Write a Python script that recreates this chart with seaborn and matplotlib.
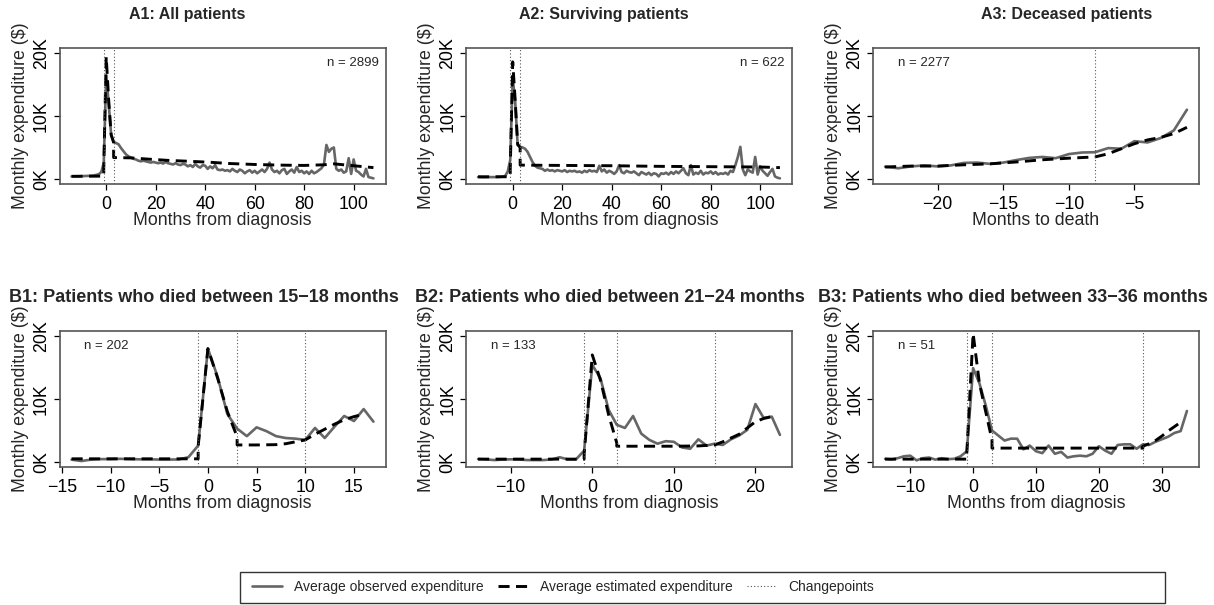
import numpy as np
import pandas as pd
import matplotlib
matplotlib.use("Agg")
import matplotlib.pyplot as plt
import seaborn as sns
from matplotlib.patches import Rectangle
from matplotlib.lines import Line2D

sns.set_style("ticks")
plt.rcParams['font.family'] = ['Liberation Sans', 'DejaVu Sans']
plt.rcParams['axes.unicode_minus'] = True

# ---------------- data ----------------
titles = ["A1: All patients", "A2: Surviving patients", "A3: Deceased patients",
          "B1: Patients who died between 15\u221218 months",
          "B2: Patients who died between 21\u221224 months",
          "B3: Patients who died between 33\u221236 months"]
xlabels = ["Months from diagnosis", "Months from diagnosis", "Months to death",
           "Months from diagnosis", "Months from diagnosis", "Months from diagnosis"]
n_labels = ["n = 2899", "n = 622", "n = 2277", "n = 202", "n = 133", "n = 51"]

a1_months = np.arange(-14, 109)
a1_obs = [400, 420, 430, 420, 450, 460, 480, 500, 520, 560, 650,
          750, 1100, 2500, 16500, 12000, 7000, 5900,
          5700, 5500, 4900, 4400, 3900, 3600, 3400, 3200, 3100, 2900,
          2800, 2900, 2800, 2700, 2600, 2700, 2600, 2500, 2600, 2450,
          2700, 2500, 2400, 2300, 2500, 2300, 2200, 2400, 2300, 2000,
          2200, 1900, 2400, 2000, 1800, 2200, 2100, 1600, 2000, 1700,
          2200, 1500, 1400, 1500, 1300, 1400, 1200, 1600, 1300, 1100,
          1500, 1300, 900, 1200, 1400, 1000, 1300, 900, 1200, 1500,
          1100, 1600, 2600, 1500, 1100, 1300, 900, 1400, 1600, 800,
          1200, 1500, 1000, 1900, 1100, 1300, 900, 1200, 800, 1300,
          900, 1100, 1400, 1700, 2300, 5400, 4300, 4800, 5000, 1600,
          1300, 1500, 1000, 1200, 3300, 800, 3100, 1300, 1100, 700,
          400, 1600, 300, 200, 100]
a1_est_x = [-14, -1, -1, 0, 1, 2, 3, 3, 10, 17, 25, 34, 42, 50, 60, 70, 80, 88, 92, 100, 108]
a1_est_y = [420, 450, 1500, 19400, 12500, 7000, 5800, 3400, 3350, 3150, 2950, 2800, 2650,
            2450, 2300, 2200, 2150, 2250, 2400, 2100, 1800]
a1_cp = [-1, 3]

a2_months = np.arange(-14, 109)
a2_obs = [300, 280, 260, 270, 280, 300, 290, 300, 310, 330, 370,
          500, 1200, 3000, 16000, 12300, 5400, 5100,
          5000, 4800, 4300, 3500, 2700, 2100, 1800, 1700, 1600, 1300,
          1500, 1300, 1400, 1200, 1400, 1300, 1200, 1400, 1100, 1300,
          1200, 1300, 1100, 1200, 1000, 1300, 1100, 1400, 1200, 1300,
          1100, 2100, 1200, 1500, 1000, 1300, 1100, 800, 1200, 2200,
          1100, 900, 1300, 1100, 1000, 1200, 900, 600, 1100, 900,
          700, 1000, 600, 900, 800, 400, 900, 800, 1000, 700,
          1100, 800, 1200, 900, 1300, 1700, 900, 600, 2200, 700,
          1000, 800, 1300, 700, 1000, 900, 1200, 800, 1100, 700,
          900, 800, 1000, 700, 1300, 1100, 2200, 3500, 5100, 1500,
          600, 1500, 1200, 1000, 3500, 700, 2000, 1300, 900, 500,
          1100, 1600, 400, 200, 100]
a2_est_x = [-14, -1, -1, 0, 1, 2, 3, 3, 20, 40, 60, 80, 100, 108]
a2_est_y = [350, 350, 1500, 18600, 12500, 5500, 5000, 2200, 2150, 2100, 2000, 1950, 1900, 1800]
a2_cp = [-1, 3]

a3_months = np.arange(-24, 0)
a3_obs = [1950, 1700, 2000, 2150, 2000, 2150, 2550, 2600, 2400, 2600, 3000, 3350,
          3500, 3300, 3950, 4200, 4250, 4900, 4800, 6000, 5800, 6500, 7700, 11000]
a3_est_x = [-24, -22, -20, -18, -16, -14, -12, -10, -8, -8, -7, -6, -5, -4, -3, -2, -1]
a3_est_y = [1900, 2050, 2050, 2250, 2400, 2700, 3050, 3300, 3500,
            3500, 4000, 4800, 5600, 6200, 6600, 7200, 8200]
a3_cp = [-8]

b1_months = np.arange(-14, 18)
b1_obs = [370, 150, 370, 450, 450, 500, 450, 420, 420, 380, 380, 400, 750, 2600,
          18000, 13500, 7600, 5300, 4100, 5500, 4900, 4100, 3800, 3700, 3500,
          5400, 3800, 5600, 7300, 6500, 8400, 6400]
b1_est_x = [-14, -1, -1, 0, 1, 2, 3, 3, 5, 7, 8, 9, 10, 10, 11, 12, 13, 14, 15, 16]
b1_est_y = [500, 500, 2500, 18000, 13300, 8000, 4000, 2700, 2700, 2750, 2900, 3200, 3500,
            3500, 4400, 5200, 6000, 6700, 7200, 7600]
b1_cp = [-1, 3, 10]

b2_months = np.arange(-14, 24)
b2_obs = [470, 400, 300, 380, 420, 400, 300, 300, 300, 400, 750, 400, 400, 1800,
          15400, 13300, 8300, 5900, 5400, 7300, 4500, 3500, 2900, 3300, 3200, 2300,
          2100, 3600, 2600, 2900, 2700, 3600, 4200, 5100, 9200, 7000, 7200, 4300]
b2_est_x = [-14, -1, -1, 0, 1, 2, 3, 3, 10, 13, 15, 15, 16, 17, 18, 19, 20, 21, 22]
b2_est_y = [450, 450, 1200, 17000, 13000, 7500, 3000, 2500, 2500, 2550, 2700,
            2700, 3200, 3800, 4400, 5400, 6400, 6900, 7200]
b2_cp = [-1, 3, 15]

b3_months = np.arange(-14, 35)
b3_obs = [500, 400, 600, 900, 1000, 260, 600, 700, 370, 600, 450, 500, 900, 1700,
          14900, 12500, 9000, 5000, 4200, 3400, 3700, 3700, 2000, 2600, 1700, 1400,
          2600, 1300, 1600, 700, 900, 1000, 900, 1300, 2500, 1800, 1300, 2700, 2800,
          2800, 2100, 2800, 2700, 3200, 3600, 4000, 4600, 4900, 8100]
b3_est_x = [-14, -1, -1, 0, 1, 2, 3, 3, 27, 27, 28, 29, 30, 31, 32, 33]
b3_est_y = [450, 450, 1500, 20400, 12500, 8000, 3500, 2200, 2200,
            2500, 2900, 3400, 4100, 4900, 5600, 6300]
b3_cp = [-1, 3, 27]

xticks = [[0, 20, 40, 60, 80, 100], [0, 20, 40, 60, 80, 100], [-20, -15, -10, -5],
          [-15, -10, -5, 0, 5, 10, 15], [-10, 0, 10, 20], [-10, 0, 10, 20, 30]]
yticks = [0, 10000, 20000]
ytick_labels = ["0K", "10K", "20K"]
legend_labels = ["Average observed expenditure", "Average estimated expenditure", "Changepoints"]

panels = [
    (a1_months, a1_obs, a1_est_x, a1_est_y, a1_cp),
    (a2_months, a2_obs, a2_est_x, a2_est_y, a2_cp),
    (a3_months, a3_obs, a3_est_x, a3_est_y, a3_cp),
    (b1_months, b1_obs, b1_est_x, b1_est_y, b1_cp),
    (b2_months, b2_obs, b2_est_x, b2_est_y, b2_cp),
    (b3_months, b3_obs, b3_est_x, b3_est_y, b3_cp),
]

# ---------------- layout ----------------
W, H = 1214, 605
fig = plt.figure(figsize=(W / 100, H / 100), dpi=100)

lefts = [59.5, 466, 873]
row_tops = [48, 331]
ax_w, ax_h = 326, 136
title_x = [187, 604, 1067, 204, 610, 1013]
title_y = [14, 298]
title_size = [11.5, 11.5, 11.5, 13, 13, 13]
n_pos = [(0.979, 'right'), (0.978, 'right'), (0.077, 'left'),
         (0.074, 'left'), (0.077, 'left'), (0.077, 'left')]

OBS_COLOR = "#666666"
EST_COLOR = "black"
FRAME_COLOR = "#555555"
FS = 12.8

for i, (months, obs, ex, ey, cps) in enumerate(panels):
    r, c = divmod(i, 3)
    left = lefts[c]
    top = row_tops[r]
    ax = fig.add_axes([left / W, 1 - (top + ax_h) / H, ax_w / W, ax_h / H])

    df_obs = pd.DataFrame({"month": months, "value": obs})
    df_est = pd.DataFrame({"month": ex, "value": ey})
    sns.lineplot(data=df_obs, x="month", y="value", ax=ax, color=OBS_COLOR,
                 linewidth=1.9, estimator=None, sort=False)
    sns.lineplot(data=df_est, x="month", y="value", ax=ax, color=EST_COLOR,
                 linewidth=2.1, estimator=None, sort=False,
                 linestyle=(0, (3.8, 2.2)))
    for cp in cps:
        ax.axvline(cp, color="#555555", linewidth=0.8, linestyle=(0, (1, 2)))

    xmin, xmax = min(months), max(months)
    pad = 0.04 * (xmax - xmin)
    ax.set_xlim(xmin - pad, xmax + pad)
    ax.set_ylim(-800, 20800)

    ax.set_xticks(xticks[i])
    ax.set_xticklabels([f"{t}".replace("-", "\u2212") for t in xticks[i]], fontsize=FS)
    ax.set_yticks(yticks)
    ax.set_yticklabels(ytick_labels, rotation=90, va="center", fontsize=FS)
    ax.tick_params(axis="x", length=4, width=0.9, pad=4.5, colors="black")
    ax.tick_params(axis="y", length=4, width=0.9, pad=3.0, colors="black")

    ax.set_xlabel(xlabels[i], fontsize=FS)
    ax.set_ylabel("Monthly expenditure ($)", fontsize=FS)
    ax.xaxis.set_label_coords(0.5, -0.205)
    ax.yaxis.set_label_coords(-0.095, 0.5)

    for sp in ax.spines.values():
        sp.set_visible(True)
        sp.set_color(FRAME_COLOR)
        sp.set_linewidth(1.2)

    nx, ha = n_pos[i]
    ax.text(nx, 0.89, n_labels[i], transform=ax.transAxes, ha=ha, va="center",
            fontsize=9.5)

    fig.text(title_x[i] / W, 1 - title_y[r] / H, titles[i], ha="center", va="center",
             fontsize=title_size[i], fontweight="bold")

# ---------------- legend ----------------
handles = [
    Line2D([], [], color=OBS_COLOR, linewidth=1.9),
    Line2D([], [], color=EST_COLOR, linewidth=2.1, linestyle=(0, (3.8, 2.2))),
    Line2D([], [], color="#555555", linewidth=0.8, linestyle=(0, (1, 2))),
]
fig.legend(handles, legend_labels, loc="center left",
           bbox_to_anchor=(252 / W, 1 - 587 / H), ncol=3, frameon=False,
           fontsize=10, handlelength=2.15, handletextpad=0.85, columnspacing=1.05,
           borderpad=0, borderaxespad=0)
fig.patches.append(Rectangle((240 / W, 1 - 603 / H), 925 / W, 31 / H,
                             transform=fig.transFigure, fill=False,
                             edgecolor="#333333", linewidth=1.0))

fig.savefig("out.png", dpi=100)
